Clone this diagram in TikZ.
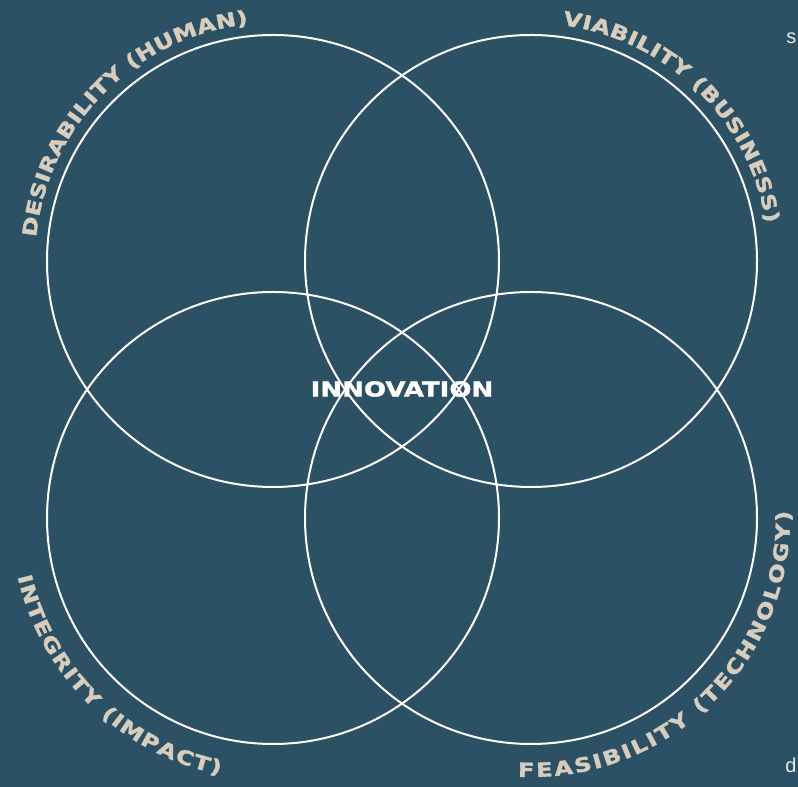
\documentclass[tikz,border=0pt]{standalone}
\usepackage{fontspec}
\usetikzlibrary{decorations.text}
\newfontfamily\lblfont[FakeStretch=1.24,BoldFeatures={FakeBold=1.8}]{DejaVu Sans}
\newfontfamily\centrefont[FakeStretch=1.26,BoldFeatures={FakeBold=1.6}]{DejaVu Sans}
\newfontfamily\notefont{Liberation Sans}
\definecolor{bg}{RGB}{45,81,100}
\definecolor{lbl}{RGB}{214,205,190}
\newcommand\rimlabelfont{\lblfont\bfseries\fontsize{14.6}{18}\selectfont\color{lbl}}
\begin{document}
\begin{tikzpicture}[x=0.75pt,y=0.75pt,
  ring/.style={draw=white,line width=1.5pt},
  arclabel/.style={decorate,decoration={text along path,
      text align=fit to path,
      text={|\rimlabelfont|#1}}},
  notetext/.style={text=white!88!bg,inner sep=0pt,font=\notefont\fontsize{15}{18}\selectfont}]
% canvas
\fill[bg] (0,0) rectangle (798,787);
\useasboundingbox (0,0) rectangle (798,787);

% circle centres
\coordinate (cTL) at (273,526);
\coordinate (cTR) at (531,526);
\coordinate (cBL) at (273,269);
\coordinate (cBR) at (531,269);

% the four overlapping circles
\draw[ring] (cTL) circle[radius=169.5pt];
\draw[ring] (cTR) circle[radius=169.5pt];
\draw[ring] (cBL) circle[radius=169.5pt];
\draw[ring] (cBR) circle[radius=169.5pt];

% curved labels round the outer rims
\path[arclabel={DESIRABILITY (HUMAN)}] (cTL) ++(174.3:178.5pt)
  arc[start angle=174.3,end angle=96,radius=178.5pt];
\path[arclabel={VIABILITY (BUSINESS)}] (cTR) ++(82.4:178.5pt)
  arc[start angle=82.4,end angle=9.1,radius=178.5pt];
\path[arclabel={INTEGRITY (IMPACT)}] (cBL) ++(192.9:196.5pt)
  arc[start angle=192.9,end angle=258.3,radius=196.5pt];
\path[arclabel={FEASIBILITY (TECHNOLOGY)}] (cBR) ++(267.1:194.25pt)
  arc[start angle=267.1,end angle=361.6,radius=194.25pt];

% centre label
\node[text=white,inner sep=0pt,font=\centrefont\bfseries\fontsize{15.5}{18}\selectfont]
  (innov) at (402,398) {INNOVATION};

% stray side text
\node[notetext,anchor=base west] (noteS) at (786,743) {s};
\node[notetext,anchor=base west] (noteD) at (785,14) {d};
\end{tikzpicture}
\end{document}
